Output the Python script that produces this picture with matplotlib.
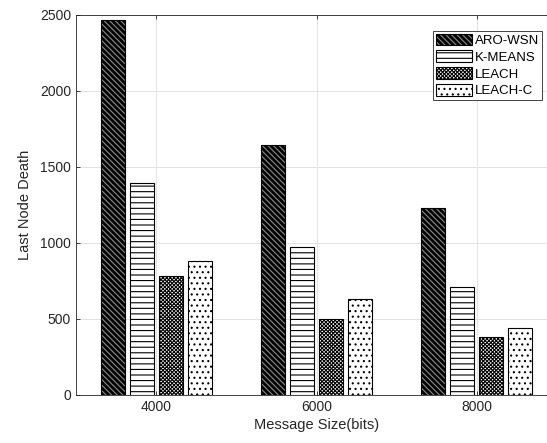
import numpy as np
import matplotlib
matplotlib.use('Agg')
import matplotlib.pyplot as plt
from matplotlib.patches import Patch
from matplotlib.legend_handler import HandlerTuple

# === 数据 ===
msg_sizes = [4000, 6000, 8000]
methods = ['ARO-WSN', 'K-MEANS', 'LEACH', 'LEACH-C']
aro_wsn = [2470, 1645, 1232]
k_means = [1395, 975, 712]
leach = [782, 497, 380]
leach_c = [882, 630, 442]
series = [aro_wsn, k_means, leach, leach_c]

# === 样式 ===
plt.rcParams['font.family'] = ['Liberation Sans', 'DejaVu Sans']
plt.rcParams['hatch.linewidth'] = 0.8
text_col = '#262626'
faces = ['black', 'white', 'white', 'white']
hatch_cols = ['#8c8c8c', 'black', 'black', 'black']
hatches = ['\\' * 6, '---', 'x' * 9, '...']

fig = plt.figure(figsize=(5.47, 4.43), dpi=100)
ax = fig.add_axes([76 / 547, 1 - 395 / 443, 481 / 547, 380 / 443])

width = 300
pitch = 362.5
handles = []
for i, vals in enumerate(series):
    x = np.array(msg_sizes) + (i - 1.5) * pitch
    ax.bar(x, vals, width, color=faces[i], edgecolor=hatch_cols[i],
           hatch=hatches[i], linewidth=0, zorder=2)
    ax.bar(x, vals, width, facecolor='none', edgecolor='black',
           linewidth=0.8, zorder=3)
    h1 = Patch(facecolor=faces[i], edgecolor=hatch_cols[i], hatch=hatches[i], linewidth=0)
    h2 = Patch(facecolor='none', edgecolor='black', linewidth=0.8)
    handles.append((h1, h2))

ax.set_xlim(3000, 9000)
ax.set_ylim(0, 2500)
ax.set_xticks(msg_sizes)
ax.set_yticks(np.arange(0, 2501, 500))
ax.grid(True, color='#e3e3e3', linewidth=0.7, zorder=0)
ax.set_axisbelow(True)
ax.tick_params(direction='in', length=3, colors=text_col, labelsize=10,
               top=True, right=True, width=0.6)
for s in ax.spines.values():
    s.set_color(text_col)
    s.set_linewidth(0.6)

ax.set_xlabel('Message Size(bits)', fontsize=10.5, color=text_col, labelpad=3)
ax.set_ylabel('Last Node Death', fontsize=10.5, color=text_col, labelpad=6)

leg = ax.legend(handles, methods, handler_map={tuple: HandlerTuple(ndivide=1, pad=0)},
                loc='upper right', bbox_to_anchor=((542 - 76) / 481, 1 - (31 - 15) / 380),
                bbox_transform=ax.transAxes, fontsize=9.5, frameon=True, fancybox=False,
                edgecolor=text_col, framealpha=1, borderpad=0.2, labelspacing=0.25,
                handlelength=2.8, handleheight=1.0, handletextpad=0.2, borderaxespad=0)
leg.get_frame().set_linewidth(0.6)
for t in leg.get_texts():
    t.set_color('black')

plt.savefig('out.png', dpi=100)
